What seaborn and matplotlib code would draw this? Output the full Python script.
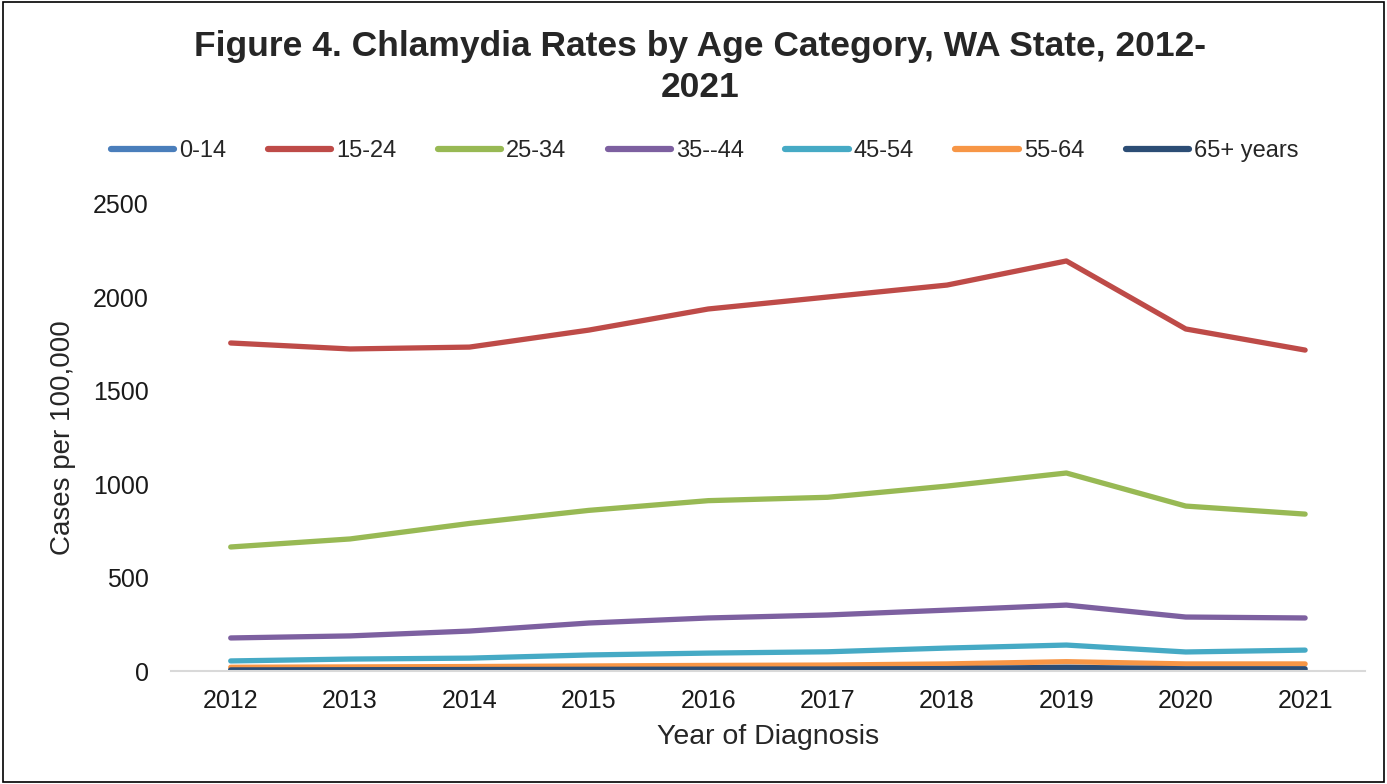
import pandas as pd
import seaborn as sns
import matplotlib.pyplot as plt
from matplotlib.patches import Rectangle

years = [2012, 2013, 2014, 2015, 2016, 2017, 2018, 2019, 2020, 2021]
age_groups = ["0-14", "15-24", "25-34", "35--44", "45-54", "55-64", "65+ years"]
rates = {
    "0-14": [4, 4, 4, 4, 4, 4, 4, 5, 3, 3],
    "15-24": [1756, 1724, 1734, 1825, 1938, 2002, 2066, 2195, 1831, 1718],
    "25-34": [664, 707, 790, 860, 912, 930, 990, 1060, 883, 840],
    "35--44": [177, 188, 214, 257, 284, 300, 326, 353, 289, 284],
    "45-54": [54, 64, 69, 86, 96, 103, 123, 139, 102, 112],
    "55-64": [20, 22, 24, 27, 30, 32, 38, 50, 38, 38],
    "65+ years": [6, 7, 8, 9, 10, 11, 13, 20, 12, 12],
}
colors = ["#4A7EBB", "#BE4B48", "#98B954", "#7D60A0", "#46AAC5", "#F79646", "#2C4D75"]

df = pd.DataFrame(
    [(y, g, v) for g in age_groups for y, v in zip(years, rates[g])],
    columns=["year", "group", "rate"],
)

sns.set_style("white")
plt.rcParams["font.family"] = ["Liberation Sans", "DejaVu Sans"]

fig = plt.figure(figsize=(13.87, 7.84), dpi=100)
ax = fig.add_axes([0.1233, 0.1441, 0.8607, 0.5957])

sns.lineplot(data=df, x="year", y="rate", hue="group", hue_order=age_groups,
             palette=colors, linewidth=3.8, ax=ax, solid_capstyle="round")

handles, labels = ax.get_legend_handles_labels()
ax.get_legend().remove()
for h in handles:
    h.set_linewidth(4.5)
fig.legend(handles, labels, loc="center", bbox_to_anchor=(0.508, 0.807), ncol=7,
           frameon=False, fontsize=17, handlelength=2.7, handletextpad=0.2,
           columnspacing=1.75)

ax.set_xlim(2011.5, 2021.5)
ax.set_ylim(0, 2500)
ax.set_xticks(years)
ax.set_yticks([0, 500, 1000, 1500, 2000, 2500])
ax.tick_params(axis="both", length=0, labelsize=18, colors="#1a1a1a")
ax.tick_params(axis="y", pad=16)
ax.tick_params(axis="x", pad=13)
ax.set_xlabel("Year of Diagnosis", fontsize=20.5, labelpad=8)
ax.set_ylabel("Cases per 100,000", fontsize=20, labelpad=12)
for s in ["top", "right", "left"]:
    ax.spines[s].set_visible(False)
ax.spines["bottom"].set_color("#D9D9D9")
ax.spines["bottom"].set_linewidth(1.5)

fig.suptitle("Figure 4. Chlamydia Rates by Age Category, WA State, 2012-\n2021",
             x=0.505, y=0.962, fontsize=25.5, fontweight="bold", linespacing=1.3)

fig.patches.append(Rectangle((0.002, 0.002), 0.996, 0.996, transform=fig.transFigure,
                             fill=False, edgecolor="black", linewidth=1.2))

fig.savefig("out.png", dpi=100)
